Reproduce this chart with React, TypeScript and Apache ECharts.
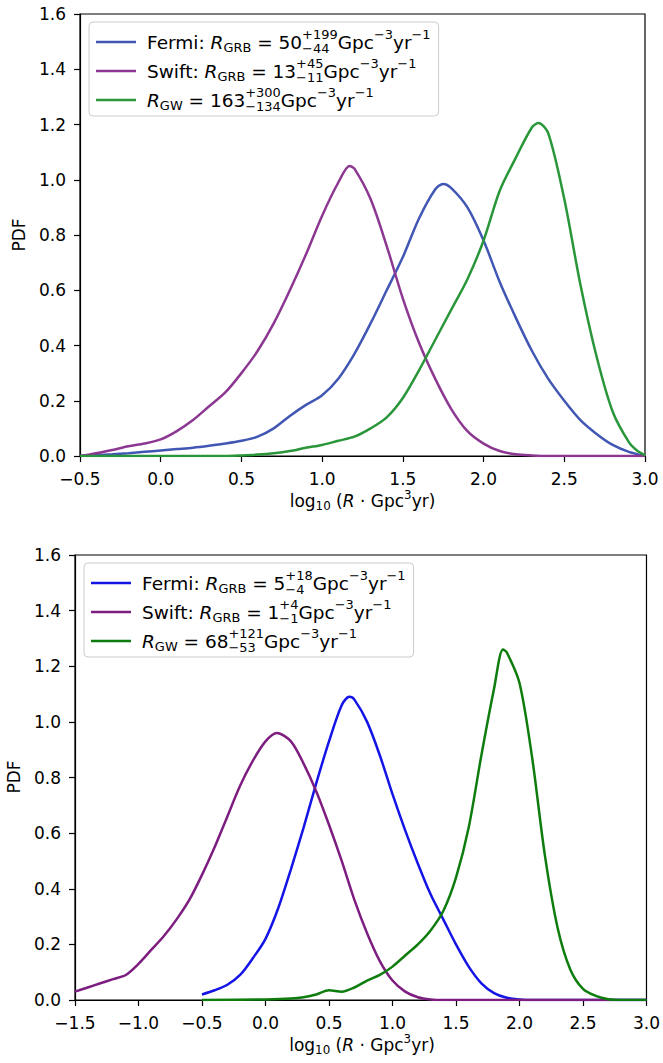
import React, { useEffect, useRef } from "react";
import * as echarts from "echarts";

// ---------- data (x = log10 rate, y = PDF) ----------
const topFermi: number[][] = [
  [-0.5, 0.0], [-0.4, 0.003], [-0.3, 0.006], [-0.2, 0.01], [-0.1, 0.015], [0.0, 0.02],
  [0.1, 0.025], [0.2, 0.03], [0.3, 0.037], [0.4, 0.045], [0.5, 0.055], [0.6, 0.07],
  [0.7, 0.1], [0.8, 0.145], [0.9, 0.185], [1.0, 0.22], [1.1, 0.28], [1.2, 0.37],
  [1.3, 0.48], [1.4, 0.6], [1.5, 0.72], [1.6, 0.86], [1.7, 0.965], [1.75, 0.985],
  [1.8, 0.97], [1.9, 0.9], [2.0, 0.78], [2.1, 0.63], [2.2, 0.5], [2.3, 0.38],
  [2.4, 0.28], [2.5, 0.2], [2.6, 0.13], [2.7, 0.08], [2.8, 0.04], [2.9, 0.015], [3.0, 0.0],
];
const topSwift: number[][] = [
  [-0.5, 0.0], [-0.4, 0.01], [-0.3, 0.022], [-0.2, 0.035], [-0.1, 0.045], [0.0, 0.06],
  [0.1, 0.09], [0.2, 0.13], [0.3, 0.18], [0.4, 0.23], [0.5, 0.3], [0.6, 0.38],
  [0.7, 0.48], [0.8, 0.6], [0.9, 0.73], [1.0, 0.87], [1.1, 0.99], [1.17, 1.05],
  [1.2, 1.04], [1.3, 0.93], [1.4, 0.76], [1.5, 0.57], [1.6, 0.41], [1.7, 0.28],
  [1.8, 0.17], [1.9, 0.09], [2.0, 0.045], [2.1, 0.018], [2.2, 0.006], [2.3, 0.002],
  [2.4, 0.0], [3.0, 0.0],
];
const topGW: number[][] = [
  [-0.5, 0.0], [0.4, 0.0], [0.5, 0.002], [0.6, 0.005], [0.7, 0.01], [0.8, 0.018],
  [0.9, 0.03], [1.0, 0.04], [1.1, 0.055], [1.2, 0.07], [1.3, 0.1], [1.4, 0.14],
  [1.5, 0.21], [1.6, 0.31], [1.7, 0.42], [1.8, 0.53], [1.9, 0.64], [2.0, 0.78],
  [2.1, 0.96], [2.2, 1.08], [2.3, 1.19], [2.34, 1.205], [2.4, 1.17], [2.5, 0.93],
  [2.6, 0.62], [2.7, 0.36], [2.8, 0.16], [2.9, 0.05], [2.95, 0.02], [3.0, 0.003],
];

const botSwift: number[][] = [
  [-1.5, 0.03], [-1.4, 0.045], [-1.3, 0.06], [-1.2, 0.075], [-1.1, 0.09], [-1.0, 0.13],
  [-0.9, 0.18], [-0.8, 0.23], [-0.7, 0.29], [-0.6, 0.36], [-0.5, 0.45], [-0.4, 0.55],
  [-0.3, 0.66], [-0.2, 0.77], [-0.1, 0.86], [0.0, 0.93], [0.09, 0.96], [0.2, 0.93],
  [0.3, 0.85], [0.4, 0.75], [0.5, 0.63], [0.6, 0.5], [0.7, 0.36], [0.8, 0.24],
  [0.9, 0.14], [1.0, 0.07], [1.1, 0.03], [1.2, 0.01], [1.3, 0.002], [1.4, 0.0], [3.0, 0.0],
];
const botFermi: number[][] = [
  [-0.5, 0.02], [-0.4, 0.035], [-0.3, 0.055], [-0.2, 0.09], [-0.1, 0.15], [0.0, 0.22],
  [0.1, 0.33], [0.2, 0.47], [0.3, 0.62], [0.4, 0.78], [0.5, 0.93], [0.6, 1.06],
  [0.66, 1.09], [0.7, 1.08], [0.8, 1.0], [0.9, 0.88], [1.0, 0.74], [1.1, 0.61],
  [1.2, 0.49], [1.3, 0.38], [1.4, 0.29], [1.5, 0.2], [1.6, 0.12], [1.7, 0.06],
  [1.8, 0.025], [1.9, 0.008], [2.0, 0.002], [2.1, 0.0], [3.0, 0.0],
];
const botGW: number[][] = [
  [-0.5, 0.0], [0.0, 0.002], [0.2, 0.005], [0.3, 0.01], [0.4, 0.02], [0.5, 0.035],
  [0.6, 0.03], [0.7, 0.045], [0.8, 0.07], [0.9, 0.09], [1.0, 0.12], [1.1, 0.16],
  [1.2, 0.2], [1.3, 0.25], [1.4, 0.32], [1.5, 0.44], [1.6, 0.62], [1.7, 0.88],
  [1.8, 1.12], [1.87, 1.26], [1.9, 1.25], [2.0, 1.14], [2.1, 0.87], [2.2, 0.52],
  [2.3, 0.26], [2.4, 0.11], [2.5, 0.04], [2.6, 0.015], [2.7, 0.003], [2.8, 0.0], [3.0, 0.0],
];

const topXMin = -0.5;
const botXMin = -1.5;
const xMax = 3.0;
const yMax = 1.6;

const topColors = ["#4157b3", "#8c3792", "#2a963a"];
const botColors = ["#1414e6", "#7d1d80", "#0e7d0e"];

type Seg = { t?: string; k?: "i" | "sub" | "sup"; sup?: string; sub?: string };

const topLegend: Seg[][] = [
  [{ t: "Fermi: " }, { t: "R", k: "i" }, { t: "GRB", k: "sub" }, { t: " = 50" }, { sup: "+199", sub: "−44" }, { t: "Gpc" }, { t: "−3", k: "sup" }, { t: "yr" }, { t: "−1", k: "sup" }],
  [{ t: "Swift: " }, { t: "R", k: "i" }, { t: "GRB", k: "sub" }, { t: " = 13" }, { sup: "+45", sub: "−11" }, { t: "Gpc" }, { t: "−3", k: "sup" }, { t: "yr" }, { t: "−1", k: "sup" }],
  [{ t: "R", k: "i" }, { t: "GW", k: "sub" }, { t: " = 163" }, { sup: "+300", sub: "−134" }, { t: "Gpc" }, { t: "−3", k: "sup" }, { t: "yr" }, { t: "−1", k: "sup" }],
];
const botLegend: Seg[][] = [
  [{ t: "Fermi: " }, { t: "R", k: "i" }, { t: "GRB", k: "sub" }, { t: " = 5" }, { sup: "+18", sub: "−4" }, { t: "Gpc" }, { t: "−3", k: "sup" }, { t: "yr" }, { t: "−1", k: "sup" }],
  [{ t: "Swift: " }, { t: "R", k: "i" }, { t: "GRB", k: "sub" }, { t: " = 1" }, { sup: "+4", sub: "−1" }, { t: "Gpc" }, { t: "−3", k: "sup" }, { t: "yr" }, { t: "−1", k: "sup" }],
  [{ t: "R", k: "i" }, { t: "GW", k: "sub" }, { t: " = 68" }, { sup: "+121", sub: "−53" }, { t: "Gpc" }, { t: "−3", k: "sup" }, { t: "yr" }, { t: "−1", k: "sup" }],
];
const xLabel: Seg[] = [{ t: "log" }, { t: "10", k: "sub" }, { t: " (" }, { t: "R", k: "i" }, { t: " · Gpc" }, { t: "3", k: "sup" }, { t: "yr)" }];
const yLabel = "PDF";

const FONT = '"DejaVu Sans", sans-serif';
const FS = 17;
const LFS = 18.5;

let ctx: CanvasRenderingContext2D | null = null;
function measure(t: string, size: number, italic: boolean): number {
  if (!ctx) ctx = document.createElement("canvas").getContext("2d");
  if (!ctx) return t.length * size * 0.6;
  ctx.font = `${italic ? "italic " : ""}${size}px "DejaVu Sans"`;
  return ctx.measureText(t).width;
}

function txt(x: number, y: number, t: string, size: number, italic: boolean) {
  return {
    type: "text",
    x,
    y,
    z: 20,
    style: {
      text: t,
      fontSize: size,
      fontFamily: FONT,
      fontStyle: italic ? "italic" : "normal",
      fill: "#000",
      textAlign: "left",
      align: "left",
      textVerticalAlign: "middle",
      verticalAlign: "middle",
    },
  };
}

function segWidths(segs: Seg[], fs: number) {
  const ss = fs * 0.7;
  return segs.map((s) => {
    if (s.sup !== undefined) return Math.max(measure(s.sup, ss, false), measure(s.sub || "", ss, false));
    const size = s.k === "sub" || s.k === "sup" ? ss : fs;
    return measure(s.t || "", size, s.k === "i");
  });
}

function mathText(x0: number, yc: number, segs: Seg[], center: boolean, fs: number) {
  const ss = fs * 0.7;
  const widths = segWidths(segs, fs);
  const total = widths.reduce((a, b) => a + b, 0);
  let x = center ? x0 - total / 2 : x0;
  const els: any[] = [];
  segs.forEach((s, i) => {
    if (s.sup !== undefined) {
      els.push(txt(x, yc - fs * 0.42, s.sup, ss, false));
      els.push(txt(x, yc + fs * 0.33, s.sub || "", ss, false));
    } else if (s.k === "sub") {
      els.push(txt(x, yc + fs * 0.3, s.t || "", ss, false));
    } else if (s.k === "sup") {
      els.push(txt(x, yc - fs * 0.38, s.t || "", ss, false));
    } else {
      els.push(txt(x, yc, s.t || "", fs, s.k === "i"));
    }
    x += widths[i];
  });
  return els;
}

function legendBox(bx: number, by: number, bh: number, rows: Seg[][], colors: string[], rowY: number[]) {
  const maxW = Math.max(...rows.map((r) => segWidths(r, LFS).reduce((a, b) => a + b, 0)));
  const bw = 58 + maxW + 8;
  const els: any[] = [
    {
      type: "rect",
      z: 15,
      shape: { x: bx, y: by, width: bw, height: bh, r: 4 },
      style: { fill: "rgba(255,255,255,0.8)", stroke: "#cccccc", lineWidth: 1 },
    },
  ];
  rows.forEach((r, i) => {
    els.push({
      type: "line",
      z: 20,
      shape: { x1: bx + 7, y1: rowY[i], x2: bx + 47, y2: rowY[i] },
      style: { stroke: colors[i], lineWidth: 2.5 },
    });
    els.push(...mathText(bx + 58, rowY[i], r, false, LFS));
  });
  return els;
}

const fmt = (v: number) => (Math.abs(v) < 1e-9 ? "0.0" : (v < 0 ? "−" : "") + Math.abs(v).toFixed(1));

function axisCommon() {
  return {
    axisLine: { show: true, onZero: false, lineStyle: { color: "#000", width: 1.2 } },
    axisTick: { show: true, length: 6, inside: false, lineStyle: { color: "#000", width: 1.2 } },
    splitLine: { show: false },
  };
}

export default function App() {
  const ref = useRef<HTMLDivElement>(null);
  useEffect(() => {
    if (!ref.current) return;
    const chart = echarts.init(ref.current, undefined, { renderer: "svg" });
    const grids = [
      { left: 80, top: 14, width: 565, height: 442 },
      { left: 75, top: 555, width: 574, height: 445 },
    ];
    const mkSeries = (data: number[][], idx: number, color: string, name: string) => ({
      type: "line",
      name,
      xAxisIndex: idx,
      yAxisIndex: idx,
      data,
      showSymbol: false,
      symbol: "none",
      smooth: 0.3,
      lineStyle: { color, width: 2.5 },
      z: 5,
    });
    const graphics: any[] = [
      ...legendBox(89, 22, 94, topLegend, topColors, [42, 71, 100]),
      ...legendBox(84, 563, 94, botLegend, botColors, [583, 612, 641]),
      ...mathText(362.5, 501, xLabel, true, FS),
      ...mathText(362, 1045, xLabel, true, FS),
      {
        type: "text",
        x: 19,
        y: 235,
        rotation: Math.PI / 2,
        z: 20,
        style: { text: yLabel, fontSize: FS, fontFamily: FONT, fill: "#000", textAlign: "center", align: "center", textVerticalAlign: "middle", verticalAlign: "middle" },
      },
      {
        type: "text",
        x: 14,
        y: 777,
        rotation: Math.PI / 2,
        z: 20,
        style: { text: yLabel, fontSize: FS, fontFamily: FONT, fill: "#000", textAlign: "center", align: "center", textVerticalAlign: "middle", verticalAlign: "middle" },
      },
    ];
    chart.setOption({
      animation: false,
      backgroundColor: "#fff",
      grid: grids.map((g) => ({ ...g, show: true, borderColor: "#000", borderWidth: 1.2, backgroundColor: "transparent" })),
      xAxis: [topXMin, botXMin].map((mn, i) => ({
        gridIndex: i,
        type: "value",
        min: mn,
        max: xMax,
        interval: 0.5,
        ...axisCommon(),
        axisLabel: { color: "#000", fontSize: FS, fontFamily: FONT, margin: 14, formatter: fmt },
      })),
      yAxis: [0, 1].map((i) => ({
        gridIndex: i,
        type: "value",
        min: 0,
        max: yMax,
        interval: 0.2,
        ...axisCommon(),
        axisLabel: { color: "#000", fontSize: FS, fontFamily: FONT, margin: 14, formatter: fmt },
      })),
      series: [
        mkSeries(topFermi, 0, topColors[0], "Fermi"),
        mkSeries(topSwift, 0, topColors[1], "Swift"),
        mkSeries(topGW, 0, topColors[2], "GW"),
        mkSeries(botFermi, 1, botColors[0], "Fermi"),
        mkSeries(botSwift, 1, botColors[1], "Swift"),
        mkSeries(botGW, 1, botColors[2], "GW"),
      ],
      graphic: { elements: graphics },
    });
    return () => chart.dispose();
  }, []);
  return <div ref={ref} style={{ position: "absolute", left: 0, top: 0, width: 663, height: 1063 }} />;
}
